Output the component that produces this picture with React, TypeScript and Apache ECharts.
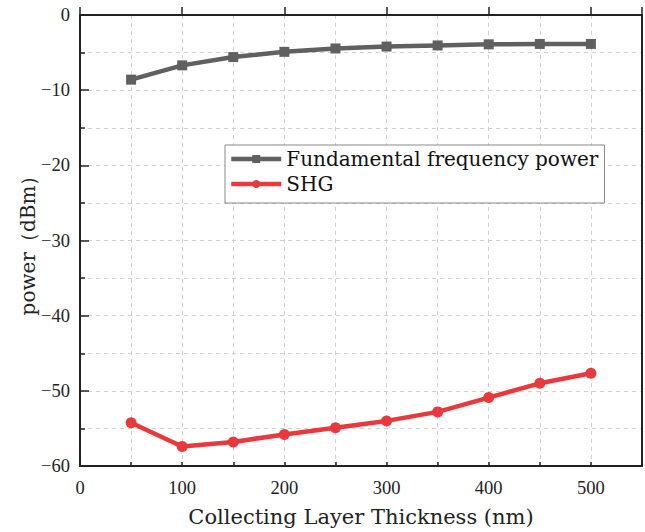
import React, { useEffect, useRef } from "react";
import * as echarts from "echarts";

const thickness = [50, 100, 150, 200, 250, 300, 350, 400, 450, 500];
const fundamentalPower = [-8.6, -6.7, -5.6, -4.9, -4.45, -4.2, -4.05, -3.9, -3.85, -3.85];
const shgPower = [-54.25, -57.4, -56.8, -55.8, -54.9, -54.0, -52.8, -50.9, -49.0, -47.65];
const seriesNames = ["Fundamental frequency power", "SHG"];
const xAxisTitle = "Collecting Layer Thickness (nm)";
const yAxisTitle = "power\uFF08dBm\uFF09";

export default function App() {
  const ref = useRef<HTMLDivElement>(null);
  useEffect(() => {
    if (!ref.current) return;
    const chart = echarts.init(ref.current, undefined, { renderer: "svg" });
    const tickFont = { fontFamily: "Liberation Serif", fontSize: 18.5, color: "#222" };
    const gridDash = { color: "#d0d0d0", type: [4, 4] as any, width: 1 };
    const frameLine = { show: true, onZero: false, lineStyle: { color: "#222", width: 2 } };
    chart.setOption({
      animation: false,
      backgroundColor: "#fff",
      grid: { left: 80, right: 3, top: 15, bottom: 66 },
      legend: {
        orient: "vertical",
        left: 225,
        top: 145,
        itemWidth: 50,
        itemHeight: 10,
        itemGap: 5,
        padding: [4, 6, 9, 4],
        backgroundColor: "#fff",
        borderColor: "#888",
        borderWidth: 1,
        lineStyle: { width: 4.5 },
        textStyle: { fontFamily: "DejaVu Serif", fontSize: 20, color: "#111" },
        data: seriesNames,
      },
      xAxis: [
        {
          type: "value",
          min: 0,
          max: 550,
          interval: 50,
          name: xAxisTitle,
          nameLocation: "middle",
          nameGap: 40,
          nameTextStyle: { fontFamily: "DejaVu Serif", fontSize: 21, color: "#222" },
          axisLine: frameLine,
          axisTick: { show: true, inside: true, length: 4, lineStyle: { color: "#222", width: 1.5 } },
          axisLabel: { ...tickFont, margin: 12, showMaxLabel: false, formatter: (v: number) => (v % 100 === 0 ? String(v) : "") },
          splitLine: { show: true, lineStyle: gridDash },
        },
        {
          type: "value",
          position: "top",
          min: 0,
          max: 550,
          interval: 50,
          axisLine: frameLine,
          axisTick: { show: false },
          axisLabel: { show: false },
          splitLine: { show: false },
        },
        {
          type: "value",
          position: "bottom",
          min: 0,
          max: 550,
          interval: 100,
          axisLine: { show: false },
          axisTick: { show: true, inside: true, length: 8, lineStyle: { color: "#222", width: 1.5 } },
          axisLabel: { show: false },
          splitLine: { show: false },
        },
      ],
      yAxis: [
        {
          type: "value",
          min: -60,
          max: 0,
          interval: 10,
          name: yAxisTitle,
          nameLocation: "middle",
          nameGap: 52,
          nameMoveOverlap: false,
          nameTextStyle: { fontFamily: "DejaVu Serif", fontSize: 20, color: "#222", verticalAlign: "middle" },
          axisLine: frameLine,
          axisTick: { show: true, inside: true, length: 9, lineStyle: { color: "#222", width: 1.5 } },
          minorTick: { show: true, splitNumber: 2, length: 5, lineStyle: { color: "#222", width: 1.5 } },
          axisLabel: { ...tickFont, margin: 10, formatter: (v: number) => (v < 0 ? "\u2212" + Math.abs(v) : String(v)) },
          splitLine: { show: true, lineStyle: gridDash },
          minorSplitLine: { show: true, lineStyle: gridDash },
        },
        {
          type: "value",
          position: "right",
          min: -60,
          max: 0,
          interval: 10,
          axisLine: frameLine,
          axisTick: { show: false },
          axisLabel: { show: false },
          splitLine: { show: false },
        },
      ],
      series: [
        {
          name: seriesNames[0],
          type: "line",
          data: thickness.map((x, i) => [x, fundamentalPower[i]]),
          symbol: "rect",
          symbolSize: 10,
          lineStyle: { color: "#606060", width: 4.5 },
          itemStyle: { color: "#606060" },
          z: 3,
        },
        {
          name: seriesNames[1],
          type: "line",
          data: thickness.map((x, i) => [x, shgPower[i]]),
          symbol: "circle",
          symbolSize: 11,
          lineStyle: { color: "#e8393d", width: 4.5 },
          itemStyle: { color: "#e8393d" },
          z: 3,
        },
      ],
    });
    return () => chart.dispose();
  }, []);
  return <div ref={ref} style={{ width: 645, height: 532, position: "absolute", left: 0, top: 0 }} />;
}
